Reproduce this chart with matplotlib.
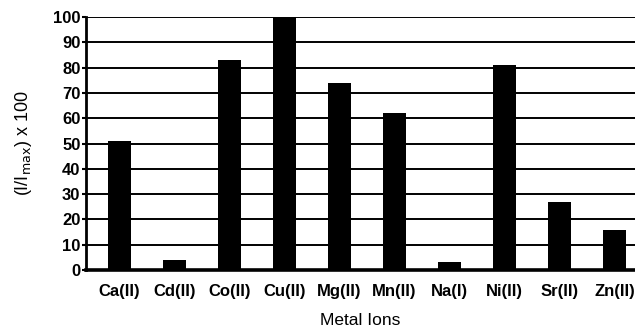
import matplotlib.pyplot as plt
import numpy as np

plt.rcParams['font.family'] = ['Liberation Sans', 'DejaVu Sans']

ions = ['Ca(II)', 'Cd(II)', 'Co(II)', 'Cu(II)', 'Mg(II)', 'Mn(II)',
        'Na(I)', 'Ni(II)', 'Sr(II)', 'Zn(II)']
rel_intensity = [51, 4, 83, 100, 74, 62, 3, 81, 27, 16]
yticks = list(range(0, 101, 10))

fig = plt.figure(figsize=(6.35, 3.32), dpi=100)
ax = fig.add_axes([86 / 635, 62 / 332, 549 / 635, 253 / 332])

x = np.arange(len(ions))
ax.bar(x, rel_intensity, width=0.42, color='black', zorder=3)

ax.set_ylim(0, 100)
ax.set_xlim(-0.61, 9.37)
ax.set_yticks(yticks)
ax.set_xticks(x)
ax.set_xticklabels(ions)
for y in yticks[1:]:
    ax.axhline(y, color='black', lw=1.4, zorder=1)

for s in ['top', 'right']:
    ax.spines[s].set_visible(False)
ax.spines['left'].set_linewidth(2.0)
ax.spines['bottom'].set_linewidth(2.6)

ax.tick_params(axis='y', length=3, width=1.5, pad=1, labelsize=12)
ax.tick_params(axis='x', length=0, pad=10, labelsize=12)
for lab in ax.get_xticklabels() + ax.get_yticklabels():
    lab.set_fontweight('bold')

ax.set_ylabel(r'(I/I$_{\rm max}$) x 100', fontsize=13, labelpad=14)
ax.set_xlabel('Metal Ions', fontsize=12.5, labelpad=10)

fig.savefig('out.png', dpi=100)
